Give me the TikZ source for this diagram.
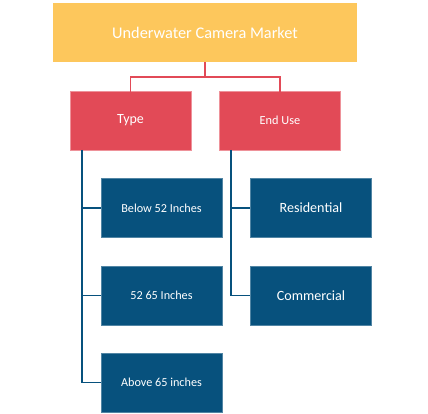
\documentclass[tikz,border=0pt]{standalone}
\usepackage{fontspec}
\setmainfont{Carlito}
\definecolor{mktyellow}{HTML}{FDC75C}
\definecolor{mktred}{HTML}{E24A57}
\definecolor{mktblue}{HTML}{07517D}
\tikzset{
  topbox/.style={fill=mktyellow, text=white, minimum width=304pt, minimum height=59pt, inner sep=0pt, font=\fontsize{16.3}{19}\selectfont},
  catbox/.style={fill=mktred, draw=mktred!60!white, line width=0.6pt, text=white, minimum width=121pt, minimum height=59pt, inner sep=0pt},
  leafbox/.style={fill=mktblue, draw=mktblue!70!white, line width=0.6pt, text=white, minimum width=121pt, minimum height=59pt, inner sep=0pt},
  redline/.style={draw=mktred, line width=1.8pt},
  blueline/.style={draw=mktblue, line width=1.6pt}
}
\begin{document}
\begin{tikzpicture}[x=1pt, y=-1pt]
\useasboundingbox (0,0) rectangle (428,414);
\node[topbox] (market) at (205,32.5) {Underwater Camera Market};
\node[catbox, font=\fontsize{14}{17}\selectfont] (type) at (130.5,120.5) {Type};
\node[catbox, font=\fontsize{12.3}{15}\selectfont] (enduse) at (280,120.5) {End Use};
\node[leafbox, font=\fontsize{12.2}{14}\selectfont] (below) at (161.5,208) {Below 52 Inches};
\node[leafbox, font=\fontsize{12.2}{14}\selectfont] (mid) at (161.5,295.5) {52 65 Inches};
\node[leafbox, font=\fontsize{12.2}{14}\selectfont] (above) at (161.5,382.5) {Above 65 inches};
\node[leafbox, font=\fontsize{14.1}{17}\selectfont] (resid) at (311,208) {Residential};
\node[leafbox, font=\fontsize{14.1}{17}\selectfont] (comm) at (311,295.5) {Commercial};
% red connectors
\coordinate (split) at (205,77);
\draw[redline] (market.south) -- (split);
\draw[redline] ([yshift=-2pt]type.north) |- (split) -| ([yshift=-2pt]enduse.north);
% blue connectors
\coordinate (typebus) at (82,150);
\coordinate (usebus) at (231,150);
\draw[blueline] (typebus) |- (above.west);
\draw[blueline] (typebus |- below.west) -- (below.west);
\draw[blueline] (typebus |- mid.west) -- (mid.west);
\draw[blueline] (usebus) |- (comm.west);
\draw[blueline] (usebus |- resid.west) -- (resid.west);
\end{tikzpicture}
\end{document}
